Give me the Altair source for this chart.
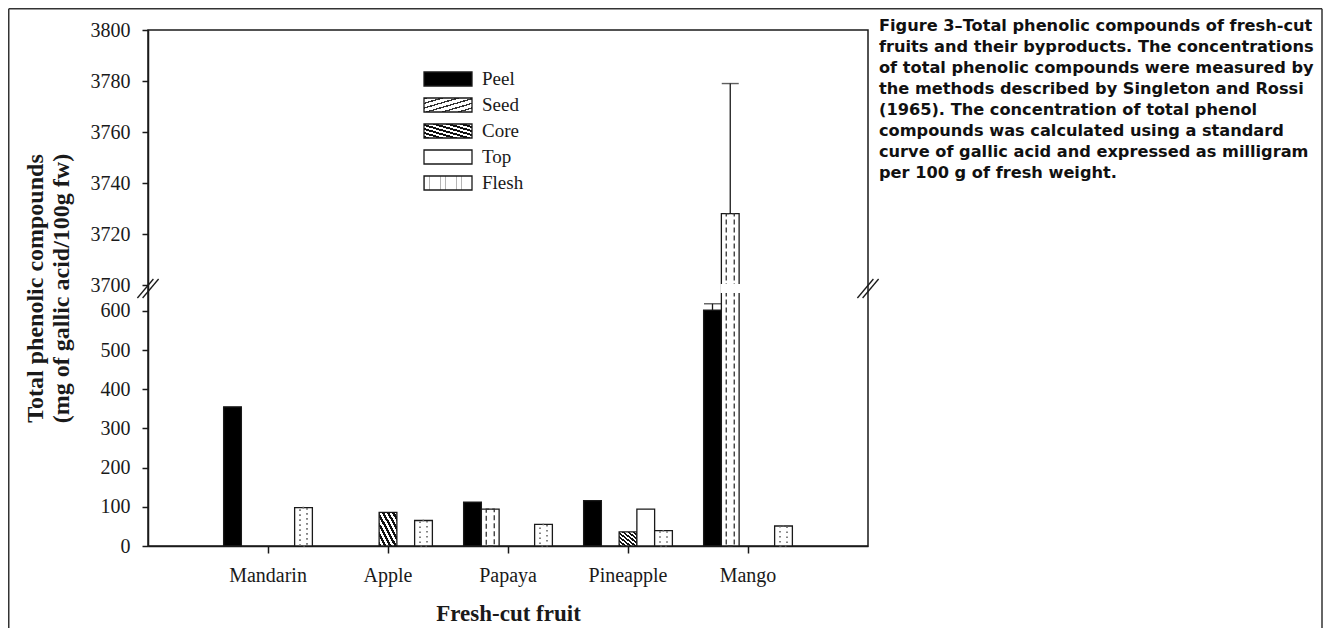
import altair as alt
import pandas as pd

# ---------------- data ----------------
fruits = ["Mandarin", "Apple", "Papaya", "Pineapple", "Mango"]
series = ["Peel", "Seed", "Core", "Top", "Flesh"]
peel = [355, None, 112, 116, 602]
seed = [None, None, 94, None, 3728]
core = [None, 86, None, 36, None]
top = [None, None, None, 94, None]
flesh = [98, 65, 55, 39, 51]

err_fruit = ["Mango", "Mango"]
err_series = ["Peel", "Seed"]
err_upper = [618, 3779]

y_ticks_low = [0, 100, 200, 300, 400, 500, 600]
y_ticks_high = [3700, 3720, 3740, 3760, 3780, 3800]

caption = [
    "Figure 3\u2013Total phenolic compounds of fresh-cut",
    "fruits and their byproducts. The concentrations",
    "of total phenolic compounds were measured by",
    "the methods described by Singleton and Rossi",
    "(1965). The concentration of total phenol",
    "compounds was calculated using a standard",
    "curve of gallic acid and expressed as milligram",
    "per 100 g of fresh weight.",
]

# ---------------- tables ----------------
rows = []
for s, vals in zip(series, [peel, seed, core, top, flesh]):
    for f, v in zip(fruits, vals):
        if v is not None:
            rows.append({"fruit": f, "series": s, "value": v})
bars_df = pd.DataFrame(rows)
err_df = pd.DataFrame({"fruit": err_fruit, "series": err_series, "upper": err_upper}).merge(
    bars_df, on=["fruit", "series"]
)
BREAK_LO, BREAK_HI = 648, 3700
gap_df = pd.DataFrame({"fruit": ["Mango"], "series": ["Seed"], "lo": [BREAK_LO], "hi": [BREAK_HI]})
legend_df = pd.DataFrame({"series": series})
dummy = pd.DataFrame({"k": [0]})

# ---------------- style ----------------
W, H = 720, 516
INK = "#1a1a1a"
SERIF = "Liberation Serif"


def stripes(n, frac, dark, light, x1, y1, x2, y2):
    stops = []
    for k in range(n):
        a, b, c = k / n, (k + frac) / n, (k + 1) / n
        stops += [
            {"offset": a, "color": dark},
            {"offset": b, "color": dark},
            {"offset": b, "color": light},
            {"offset": c, "color": light},
        ]
    return {"gradient": "linear", "x1": x1, "y1": y1, "x2": x2, "y2": y2, "stops": stops}


core_grad = stripes(7, 0.5, "#111111", "#ffffff", 0, 1, 1, 0)
seed_leg_grad = stripes(6, 0.3, "#333333", "#ffffff", 0, 0, 1, 1)
flesh_leg_grad = stripes(9, 0.14, "#b5b5b5", "#ffffff", 0, 0, 1, 0)

X_SCALE = alt.Scale(domain=fruits, paddingInner=0, paddingOuter=0.5)
XO_SCALE = alt.Scale(domain=series, paddingInner=0, paddingOuter=0.88)
Y_SCALE = alt.Scale(domain=[0, BREAK_LO, BREAK_HI, 3800], range=[H, 262, 255, 0], nice=False, zero=False)

x_axis = alt.Axis(
    title="Fresh-cut fruit", labelAngle=0, labelFont=SERIF, labelFontSize=20, labelColor=INK,
    labelPadding=12, tickSize=7, tickColor=INK, tickWidth=1.5, domainColor=INK, domainWidth=1.5,
    titleFont=SERIF, titleFontSize=23, titleFontWeight="bold", titleColor=INK,
    titleBaseline="alphabetic", titleY=74, grid=False,
)
y_axis = alt.Axis(
    values=y_ticks_low + y_ticks_high, format="d", labelFont=SERIF, labelFontSize=20,
    labelColor=INK, labelPadding=12, labelOverlap=False, tickSize=6, tickColor=INK, tickWidth=1.5,
    domainColor=INK, domainWidth=1.5, grid=False,
    title=["Total phenolic compounds", "(mg of gallic acid/100g fw)"],
    titleFont=SERIF, titleFontSize=24, titleFontWeight="bold", titleColor=INK,
    titleX=-106, titleBaseline="alphabetic", titleLineHeight=26,
)

X = alt.X("fruit:N", scale=X_SCALE, axis=x_axis)
XO = alt.XOffset("series:N", scale=XO_SCALE)

bar_fill = (
    alt.when(alt.datum.series == "Peel").then(alt.value("black"))
    .when(alt.datum.series == "Core").then(alt.value(core_grad))
    .otherwise(alt.value("white"))
)

base = alt.Chart(bars_df)
bars = base.mark_bar(stroke=INK, strokeWidth=1.3).encode(
    x=X, xOffset=XO, y=alt.Y("value:Q", scale=Y_SCALE, axis=y_axis), fill=bar_fill
)


def texture(name, w, dash, offset, color, sw):
    # a narrow, unfilled bar centred in the series slot whose dashed outline draws the hatch
    return base.transform_filter(alt.datum.series == name).mark_bar(
        width=w, fillOpacity=0, stroke=color, strokeWidth=sw, strokeDash=dash, strokeDashOffset=offset
    ).encode(x=X, xOffset=XO, y=alt.Y("value:Q", scale=Y_SCALE, axis=None))


tex = [
    texture("Seed", 8, [5, 3], 2, "#333333", 1.3),
    texture("Flesh", 7, [1.6, 3.4], 2.5, "#666666", 1.6),
]

err_base = alt.Chart(err_df)
err_rule = err_base.mark_rule(color=INK, strokeWidth=1.3).encode(
    x=X, xOffset=XO, y=alt.Y("value:Q", scale=Y_SCALE, axis=None), y2="upper:Q"
)
err_cap = err_base.mark_tick(color=INK, size=17, thickness=1.4).encode(
    x=X, xOffset=XO, y=alt.Y("upper:Q", scale=Y_SCALE, axis=None)
)

gap = alt.Chart(gap_df).mark_bar(fill="white", stroke="white", strokeWidth=2).encode(
    x=X, xOffset=XO, y=alt.Y("lo:Q", scale=Y_SCALE, axis=None), y2="hi:Q"
)

# axis-break marks on both vertical frame lines
breaks = []
for x0 in (0, W):
    for d in (-2.6, 2.6):
        breaks.append(
            alt.Chart(dummy).mark_rule(color=INK, strokeWidth=1.3).encode(
                x=alt.value(x0 - 8 + d), x2=alt.value(x0 + 8 + d),
                y=alt.value(268), y2=alt.value(249),
            )
        )

# legend
LEG_SCALE = alt.Scale(type="band", domain=series, range=[36, 166], paddingInner=0.4615, paddingOuter=0.23)
leg_fill = (
    alt.when(alt.datum.series == "Peel").then(alt.value("black"))
    .when(alt.datum.series == "Seed").then(alt.value(seed_leg_grad))
    .when(alt.datum.series == "Core").then(alt.value(core_grad))
    .when(alt.datum.series == "Flesh").then(alt.value(flesh_leg_grad))
    .otherwise(alt.value("white"))
)
leg_sym = alt.Chart(legend_df).mark_rect(stroke=INK, strokeWidth=1.3).encode(
    x=alt.value(276), x2=alt.value(324),
    y=alt.Y("series:N", scale=LEG_SCALE, axis=None), fill=leg_fill,
)
leg_txt = alt.Chart(legend_df).mark_text(
    align="left", baseline="middle", font=SERIF, fontSize=19, color=INK
).encode(x=alt.value(334), y=alt.Y("series:N", scale=LEG_SCALE, axis=None), text="series:N")

cap = alt.Chart(dummy).mark_text(
    align="left", baseline="top", font="DejaVu Sans", fontWeight="bold", fontSize=16.2,
    lineHeight=21, color="#111111",
).encode(x=alt.value(731), y=alt.value(-12), text=alt.value(caption))

# outer frame of the figure
frame = [
    alt.Chart(dummy).mark_rule(color="#333333", strokeWidth=1.5).encode(
        x=alt.value(-139.25), x2=alt.value(1174), y=alt.value(-21.25)),
    alt.Chart(dummy).mark_rule(color="#333333", strokeWidth=1.5).encode(
        x=alt.value(-139.25), y=alt.value(-21.25), y2=alt.value(598)),
    alt.Chart(dummy).mark_rule(color="#333333", strokeWidth=1.5).encode(
        x=alt.value(1174), y=alt.value(-21.25), y2=alt.value(598)),
]

chart = (
    alt.layer(bars, *tex, err_rule, err_cap, gap, *breaks, leg_sym, leg_txt, cap, *frame)
    .resolve_scale(y="independent")
    .properties(width=W, height=H, padding=0, background="white")
    .configure_view(stroke=INK, strokeWidth=1.5)
)

chart.save("out.html", embed_options={"renderer": "svg", "actions": False})
